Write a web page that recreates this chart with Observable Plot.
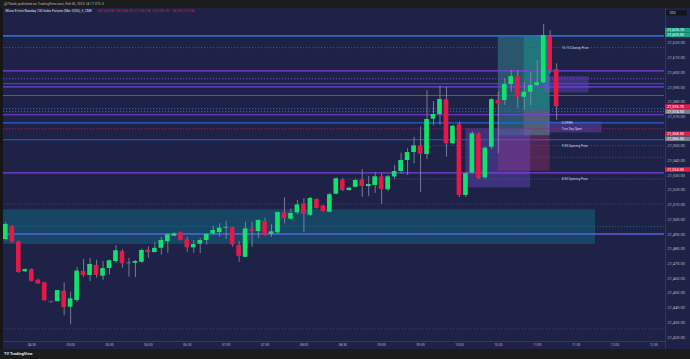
<!DOCTYPE html>
<html><head><meta charset="utf-8">
<script src="https://cdn.jsdelivr.net/npm/d3@7"></script>
<script src="https://cdn.jsdelivr.net/npm/@observablehq/plot@0.6"></script>
<style>
html,body{margin:0;padding:0;background:#1c1c1c;width:690px;height:359px;overflow:hidden;font-family:Roboto,"Liberation Sans",sans-serif}
#hdr{height:8px;line-height:8px;font-size:3.4px;color:#b8b8b8;padding-left:4px;white-space:nowrap}
#wrap{padding-left:3px;height:341px;background:#161616}
#ftr{height:10px;line-height:10px;font-size:4px;color:#e6e6e6;padding-left:4px;font-weight:bold;white-space:nowrap}
svg{display:block}
</style></head>
<body>
<div id="hdr">@7Stark published on TradingView.com, Feb 06, 2025 14:17 UTC-5</div>
<div id="wrap"></div>
<div id="ftr">TV TradingView</div>
<script>
// ---- candle data (5-minute bars starting 04:10) ----
const opens = [21486.5,21495.3,21485,21464.5,21466,21458.8,21457,21444.2,21444.2,21451.3,21440.4,21445,21464.7,21462,21468.8,21461.5,21466.7,21471.5,21478.3,21470,21470.3,21471,21479.2,21477.6,21480.5,21485,21488.7,21491,21486.3,21480.8,21483.3,21485.8,21490.3,21491.2,21494.2,21494.4,21482.4,21474.4,21493.5,21491.9,21498.7,21490,21491,21504.6,21500.3,21504.6,21510.7,21503,21513.7,21509.2,21505,21517.3,21527,21519.8,21522,21527,21522.5,21523.3,21529.1,21520.3,21529,21532.7,21540.2,21545.6,21550.2,21544.3,21568.3,21571.5,21581.5,21551.6,21564.5,21516.4,21531.6,21557.9,21528.4,21549.2,21581,21581,21591.9,21597.3,21583.2,21586.7,21591.2,21593.1,21624.6,21602];
const highs = [21498,21496,21485.5,21466.5,21466.5,21459.5,21457.5,21444.5,21452,21457,21450.6,21467.4,21472.9,21473.5,21472.4,21471.5,21472.5,21482.4,21479.6,21473.7,21472.2,21480,21481.5,21484.4,21488,21490.3,21491,21491.5,21488,21485.8,21487,21490.3,21495.5,21497.1,21499,21494.8,21485.1,21498.2,21498.2,21500,21501,21496.5,21505.3,21514.8,21507.3,21513,21514.2,21515.3,21514.2,21509.8,21518,21528.4,21528,21522,21527.3,21533.9,21529.3,21531.8,21531.1,21530,21536.8,21545.2,21548.2,21556,21562.9,21587.8,21580.3,21590.7,21590,21564.2,21566.5,21532,21559.5,21559,21549.3,21582.5,21586.7,21595.8,21601.4,21601.4,21593.5,21600.3,21608.2,21632.7,21628.6,21606];
const lows = [21485.5,21484,21463.5,21464,21457.5,21456,21444.5,21443.3,21444,21434.6,21428.6,21443.6,21460.8,21457.9,21460.2,21458.6,21462.4,21470.3,21467,21460.8,21460.6,21470.3,21473.7,21477.4,21475.8,21477.1,21488.5,21485.5,21477.8,21477.1,21477,21482.6,21489.2,21488,21486.5,21481.2,21471,21474,21481.2,21487,21488.7,21488,21490,21497.1,21499.4,21503.3,21491,21502,21507,21505,21504.5,21517,21519,21519.3,21521.4,21515.2,21515.7,21517.9,21510.3,21519,21527.3,21531.1,21530,21538,21518.6,21540.9,21563.8,21564,21542.4,21550.8,21515,21515,21531,21527.2,21527.5,21547.5,21544.8,21577.6,21586.7,21575.4,21574.2,21577.6,21590.5,21592.4,21599,21567.5];
const closes = [21496.7,21484.6,21464,21466,21458,21456.3,21444.8,21443.5,21451.7,21440.2,21446.1,21465,21462,21469.5,21462,21466.7,21472,21478.8,21470,21470.4,21471.5,21479,21477.6,21480.5,21485.8,21489.7,21490.3,21485.8,21480.8,21483,21485.8,21490,21492.6,21494.2,21494.8,21482.8,21475.1,21493.7,21491.9,21499.4,21489.4,21491.7,21504.8,21500.7,21504.2,21510,21503.5,21514.4,21507.6,21505.5,21516.9,21527.8,21519.8,21521.4,21526.6,21522.5,21523.9,21529.1,21520.5,21529.1,21532.7,21540.2,21545.6,21550.2,21544.5,21568.1,21571.5,21581.7,21551.6,21563.5,21516.4,21531.2,21558.4,21528,21548.6,21581.6,21578.7,21591.9,21597.3,21583.2,21586.7,21591.2,21593.1,21625.2,21601.4,21576.75];

// ---- horizontal levels ----
const solidPrices = [21625, 21601.2, 21592.4, 21590.3, 21584.4, 21571.3, 21565.8, 21554.3, 21531.8, 21490.3];
const solidKinds  = ["blueW","purple","blue","purple","blue","purple","blue","blue","purple","lav"];
const dotPrices = [21617, 21595.8, 21575.4, 21573.5, 21561.8, 21510.7, 21495.3, 21425.7];
const dotKinds  = ["teal","purple","blue","blue","red","faint","teal","faint"];
const partPrices = [21550.3, 21527.6, 21542.4];
const partStarts = ["09:30", "08:30", "10:00"];

// ---- zones ----
const boxStarts = ["04:08", "10:30", "10:50", "10:50", "10:30", "10:05", "11:05", "11:07"];
const boxEnds   = ["11:45", "11:10", "11:10", "11:10", "11:10", "10:55", "11:40", "11:50"];
const boxLows   = [21483.1, 21557, 21574, 21557, 21533, 21521.6, 21586.2, 21559];
const boxHighs  = [21506.7, 21625, 21625, 21574, 21557, 21561.8, 21597.3, 21566.5];
const boxKinds  = ["teal","tealA","tealB","pink","magenta","violet","violet","violet"];

// ---- annotation texts ----
const notePrices = [21617, 21565.8, 21561.3, 21550.3, 21527.6];
const noteTexts = ["16:15 Closing Price", "0 OPEN", "True Day Open", "9:30 Opening Price", "8:30 Opening Price"];

// ---- price-scale labels ----
const tagPrices = [21628.8, 21625.7, 21576.9, 21573.5, 21558.4, 21555, 21534.1];
const tagTexts  = ["21,625.75", "21,625.00", "21,576.75", "21,574.50", "21,558.50", "21,556.50", "21,534.00"];
const tagKinds  = ["green","green","red","gray","red","gray","red"];

// tick labels shown on the price scale (21,560.00 is hidden behind the tags)
const tickPrices = [21420,21430,21440,21450,21460,21470,21480,21490,21500,21510,21520,21530,21540,21550,21570,21580,21590,21600,21610,21620];
const tickTimes = ["04:30","05:00","05:30","06:00","06:30","07:00","07:30","08:00","08:30","09:00","09:30","10:00","10:30","11:00","11:30","12:00","12:30"];

const legendTitle = "Micro E-mini Nasdaq 100 Index Futures (Mar 2025), 5, CME";
const legendOHLC = "O21,602.00  H21,606.00  L21,567.50  C21,576.75  −24.75 (−0.11%)";

// ---- helpers ----
const tm = (s) => { const [h, m, sec] = s.split(":").map(Number); return new Date(Date.UTC(2025, 1, 6, h, m, sec || 0)); };
const T0 = tm("04:10");
const candles = opens.map((o, i) => ({time: new Date(+T0 + i * 300000), open: o, high: highs[i], low: lows[i], close: closes[i]}));

const GREEN = "#12e26c", RED = "#e3194a";
const lineColor = {blueW:"#2e66d6", blue:"#2d62cc", purple:"#7c3fe0", lav:"#5b60dc", teal:"#1f6286", red:"#a0204e", faint:"#3d3f86"};
const lineWidth = {blueW:1.6, blue:1.1, purple:1.1, lav:1.5};
const boxFill = {teal:["#0e7f96",0.38], tealA:["#3aa0a0",0.42], tealB:["#10c8a0",0.28], pink:["#b0708a",0.3], magenta:["#c0306a",0.32], violet:["#7b4fe0",0.35]};
const tagColor = {green:"#17a383", red:"#e3194a", gray:"#7a7d8c"};

const solid = solidPrices.map((p, i) => ({price: p, kind: solidKinds[i]}));
const dots = dotPrices.map((p, i) => ({price: p, kind: dotKinds[i]}));
const parts = partPrices.map((p, i) => ({price: p, start: tm(partStarts[i])}));
const boxes = boxStarts.map((s, i) => ({x1: tm(s), x2: tm(boxEnds[i]), y1: boxLows[i], y2: boxHighs[i], kind: boxKinds[i]}));
const notes = notePrices.map((p, i) => ({price: p, text: noteTexts[i], time: tm("11:19")}));
const tags = tagPrices.map((p, i) => ({price: p, text: tagTexts[i], kind: tagKinds[i]}));

const xL = tm("04:08:12"), xR = tm("12:38:14"), xAxisSep = tm("12:39:00"), xEnd = tm("12:59:00"), xTag = tm("12:40:20");
const yDom = [21417.1, 21643.6];
const FONT = "Roboto, 'Liberation Sans', sans-serif";

const boxMarks = Object.keys(boxFill).map(k => Plot.rect(boxes.filter(b => b.kind === k), {x1: "x1", x2: "x2", y1: "y1", y2: "y2", fill: boxFill[k][0], fillOpacity: boxFill[k][1], clip: true}));

const chart = Plot.plot({
  width: 687, height: 341,
  marginLeft: 0, marginRight: 26, marginTop: 0, marginBottom: 8,
  x: {type: "utc", domain: [xL, xR]},
  y: {domain: yDom},
  style: {background: "#1e2247", fontFamily: FONT},
  marks: [
    ...boxMarks,
    Plot.ruleY(dots, {y: "price", stroke: d => lineColor[d.kind], strokeWidth: 1, strokeDasharray: "1.2,1.8", clip: true}),
    Plot.ruleY(parts, {y: "price", x1: "start", x2: xR, stroke: "#34508c", strokeWidth: 1, strokeDasharray: "1.2,1.8", clip: true}),
    Plot.ruleY(solid, {y: "price", stroke: d => lineColor[d.kind], strokeWidth: d => lineWidth[d.kind], clip: true}),
    Plot.ruleX(candles, {x: "time", y1: "low", y2: "high", stroke: "#8d91ab", strokeWidth: 0.8, clip: true}),
    Plot.rect(candles, {x1: d => new Date(+d.time - 108000), x2: d => new Date(+d.time + 108000), y1: "open", y2: "close", fill: d => d.close >= d.open ? GREEN : RED, clip: true}),
    Plot.text(notes, {x: "time", y: "price", text: "text", textAnchor: "start", fill: "#d6d8e0", fontSize: 3.1}),
    Plot.text([legendTitle], {frameAnchor: "top-left", dx: 2, dy: 1.5, fill: "#dfe1ea", fontSize: 3.3}),
    Plot.text([legendOHLC], {frameAnchor: "top-left", dx: 94, dy: 1.5, fill: "#e3194a", fontSize: 3.3}),
    // axis separators
    Plot.ruleX([xAxisSep], {y1: 21411.7, y2: yDom[1], stroke: "#3a3e62", strokeWidth: 0.8}),
    Plot.ruleY([yDom[0]], {x1: xL, x2: xAxisSep, stroke: "#3a3e62", strokeWidth: 0.8}),
    Plot.axisY(tickPrices, {anchor: "right", tickSize: 0, tickPadding: 3, tickFormat: d3.format(",.2f"), fontSize: 4, fill: "#b4b7c4", label: null}),
    Plot.axisX(tickTimes.map(tm), {anchor: "bottom", tickSize: 0, tickPadding: 2.5, tickFormat: d3.utcFormat("%H:%M"), fontSize: 3.3, fill: "#b4b7c4", label: null}),
    // price-scale tags
    Plot.ruleY(tags, {y: "price", x1: xAxisSep, x2: xEnd, stroke: d => tagColor[d.kind], strokeWidth: 4.6}),
    Plot.text(tags, {y: "price", x: xTag, text: "text", textAnchor: "start", fill: "#ffffff", fontSize: 3.8}),
    Plot.ruleY([21640.6], {x1: tm("12:40:00"), x2: tm("12:56:00"), stroke: "#111522", strokeWidth: 5}),
    Plot.text(["USD"], {y: [21640.6], x: tm("12:42:00"), text: d => d, textAnchor: "start", fill: "#c8cad4", fontSize: 3.3})
  ]
});
document.getElementById("wrap").appendChild(chart);
</script>
</body></html>
